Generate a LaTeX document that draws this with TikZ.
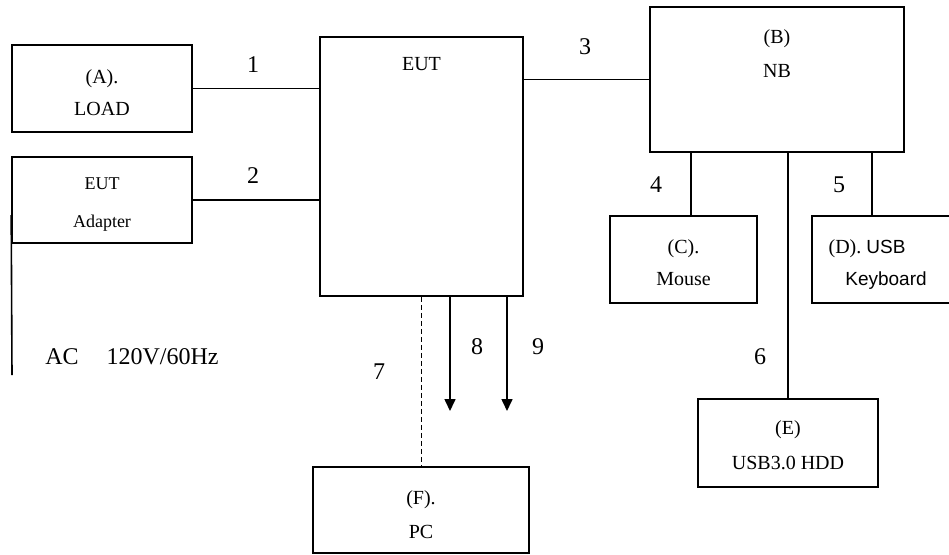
\documentclass[tikz,border=0pt]{standalone}
\usepackage{fontspec}
\setmainfont{Liberation Serif}
\newfontfamily\sansfont{Liberation Sans}
\usetikzlibrary{arrows.meta,positioning,calc}

\begin{document}
\begin{tikzpicture}[
  x=1pt,y=-1pt,
  line width=1.6pt,
  >={Triangle[length=12pt,width=11pt]},
  tag/.style={align=center, inner sep=0pt, font=\fontsize{20}{33}\selectfont},
  unit/.style={draw, line width=1.6pt, inner sep=0pt},
  num/.style={inner sep=0pt, font=\fontsize{24}{28}\selectfont},
  flow/.style={->, line width=1.6pt},
  dlink/.style={line width=1.6pt, dash pattern=on 5pt off 3pt},
]
\useasboundingbox (0,0) rectangle (949,554);

%% ---------- left side ----------
\node[unit, minimum width=180pt, minimum height=87pt] (load) at (102,88.5) {};
\node[tag, font=\fontsize{20}{32}\selectfont, below=25pt of load.north] (loadtag) {(A).\\LOAD};
\node[unit, minimum width=180pt, minimum height=86pt] (adapter) at (102,200) {};
\node[tag, font=\fontsize{18}{38}\selectfont, below=21pt of adapter.north] (adaptertag) {EUT\\Adapter};
\coordinate (acend) at (12,375);
\draw ([yshift=-15pt]adapter.west) -- (acend);
\node[num] (ac) at (132,357) {AC\hspace{28pt}120V/60Hz};

%% ---------- EUT ----------
\node[unit, minimum width=203pt, minimum height=259pt] (eut) at (421.5,166.5) {};
\node[tag, below=20pt of eut.north] (euttag) {EUT};
\draw (load.east) -- (load.east -| eut.west);
\draw (adapter.east) -- (adapter.east -| eut.west);
\node[num] (n1) at (253,65) {1};
\node[num] (n2) at (253,176) {2};

%% ---------- NB and peripherals ----------
\node[unit, minimum width=254pt, minimum height=145pt] (nb) at (777,79.5) {};
\node[tag, font=\fontsize{20}{34}\selectfont, below=23pt of nb.north] (nbtag) {(B)\\NB};
\node[unit, minimum width=147pt, minimum height=87pt] (mouse) at (683.5,259.5) {};
\node[tag, font=\fontsize{20}{32}\selectfont, below=24pt of mouse.north] (mousetag) {(C).\\Mouse};
\node[unit, minimum width=148pt, minimum height=87pt] (keyb) at (886,259.5) {};
\node[tag, font=\fontsize{20}{32}\selectfont, below=24pt of keyb.north] (keybtag)
  {(D). {\sansfont\fontsize{19}{32}\selectfont USB}\hspace*{38pt}\\{\sansfont\fontsize{19}{32}\selectfont Keyboard}};
\node[unit, minimum width=180pt, minimum height=88pt] (hdd) at (788,443) {};
\node[tag, font=\fontsize{20}{35}\selectfont, below=22pt of hdd.north] (hddtag) {(E)\\USB3.0 HDD};
\draw (nb.west -| eut.east) -- (nb.west);
\draw ([xshift=7.5pt]mouse.north) -- ([xshift=7.5pt]mouse.north |- nb.south);
\draw ([xshift=-14pt]keyb.north) -- ([xshift=-14pt]keyb.north |- nb.south);
\draw (hdd.north) -- (hdd.north |- nb.south);
\node[num] (n3) at (585,47) {3};
\node[num] (n4) at (656,185) {4};
\node[num] (n5) at (839,185) {5};
\node[num] (n6) at (760,357) {6};

%% ---------- PC and outputs ----------
\node[unit, minimum width=216pt, minimum height=86pt] (pc) at (421,510) {};
\node[tag, font=\fontsize{20}{34}\selectfont, below=24pt of pc.north] (pctag) {(F).\\PC};
\draw[dlink] (eut.south) -- (eut.south |- pc.north);
\coordinate (tip8) at (450,411);
\coordinate (tip9) at (507,411);
\draw[flow] (tip8 |- eut.south) -- (tip8);
\draw[flow] (tip9 |- eut.south) -- (tip9);
\node[num] (n7) at (379,372) {7};
\node[num] (n8) at (477,347) {8};
\node[num] (n9) at (538,347) {9};
\end{tikzpicture}
\end{document}
